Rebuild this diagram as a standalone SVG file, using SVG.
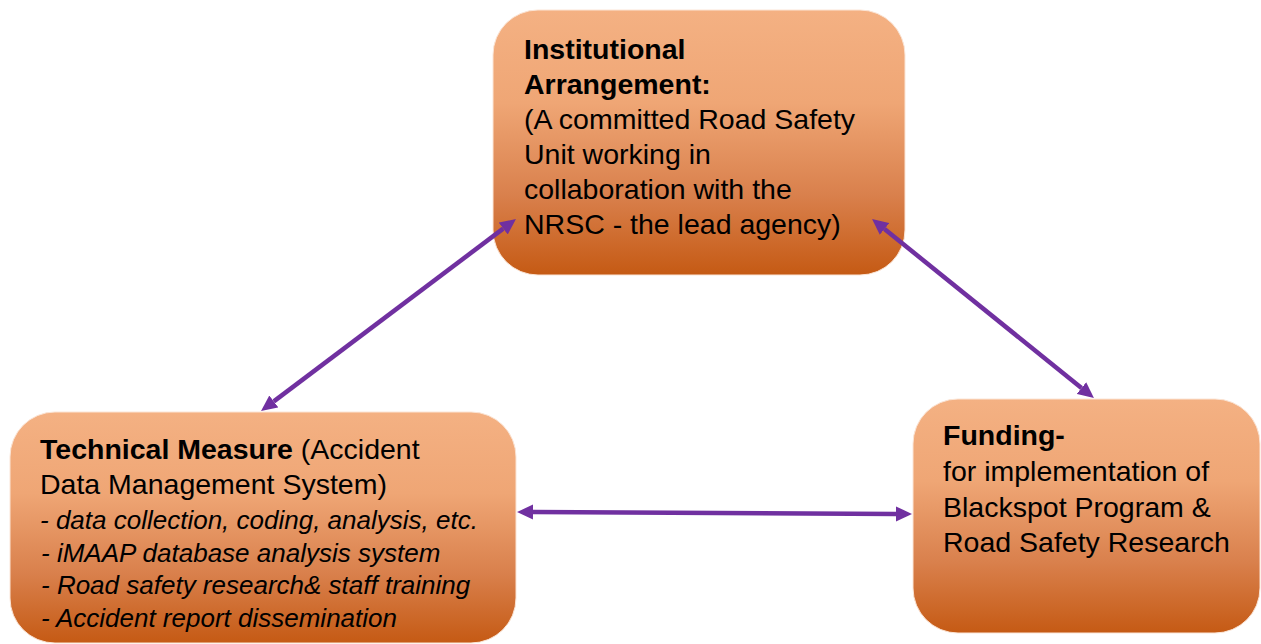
<svg xmlns="http://www.w3.org/2000/svg" width="1261" height="644" viewBox="0 0 1261 644">
  <defs>
    <linearGradient id="orangeFill" x1="0" y1="0" x2="0" y2="1">
      <stop offset="0" stop-color="#F4B183"/>
      <stop offset="0.35" stop-color="#EFA675"/>
      <stop offset="0.7" stop-color="#D9804C"/>
      <stop offset="1" stop-color="#C55A14"/>
    </linearGradient>
    <marker id="head" markerUnits="userSpaceOnUse" markerWidth="16" markerHeight="16" refX="0" refY="8" orient="auto-start-reverse">
      <path d="M0,0.5 L16,8 L0,15.5 z" fill="#7030A0"/>
    </marker>
    <style>
      .box { fill: url(#orangeFill); stroke: #FBE5D6; stroke-width: 1; }
      .txt { font-family: "Liberation Sans", Arial, sans-serif; font-size: 28.5px; fill: #000; }
      .b { font-weight: bold; }
      .it { font-style: italic; font-size: 26px; }
      .link { stroke: #7030A0; stroke-width: 4.5; fill: none; marker-start: url(#head); marker-end: url(#head); }
    </style>
  </defs>

  <rect width="1261" height="644" fill="#FFFFFF"/>

  <!-- Institutional arrangement -->
  <g id="institutional">
    <rect class="box" x="493" y="10" width="412" height="265" rx="45" ry="45"/>
    <text class="txt b" x="524" y="59">Institutional</text>
    <text class="txt b" x="524" y="94">Arrangement:</text>
    <text class="txt" x="524" y="129">(A committed Road Safety</text>
    <text class="txt" x="524" y="164">Unit working in</text>
    <text class="txt" x="524" y="199">collaboration with the</text>
    <text class="txt" x="524" y="234">NRSC - the lead agency)</text>
  </g>

  <!-- Technical measure -->
  <g id="technical">
    <rect class="box" x="10" y="412" width="506" height="231" rx="45" ry="45"/>
    <text class="txt" x="40" y="459"><tspan class="b">Technical Measure</tspan> (Accident</text>
    <text class="txt" x="40" y="494">Data Management System)</text>
    <text class="txt it" x="40" y="529">- data collection, coding, analysis, etc.</text>
    <text class="txt it" x="41" y="562">- iMAAP database analysis system</text>
    <text class="txt it" x="41" y="594">- Road safety research&amp; staff training</text>
    <text class="txt it" x="41" y="627">- Accident report dissemination</text>
  </g>

  <!-- Funding -->
  <g id="funding">
    <rect class="box" x="913" y="399" width="347" height="234" rx="45" ry="45"/>
    <text class="txt b" x="943" y="445">Funding-</text>
    <text class="txt" x="943" y="481">for implementation of</text>
    <text class="txt" x="943" y="517">Blackspot Program &amp;</text>
    <text class="txt" x="943" y="552">Road Safety Research</text>
  </g>

  <!-- Two-way links between the three pillars -->
  <g id="connectors">
    <line class="link" x1="273.8" y1="401.4" x2="503.2" y2="228.6"/>
    <line class="link" x1="884.5" y1="229" x2="1081.5" y2="388"/>
    <line class="link" x1="533" y1="512.1" x2="896" y2="513.9"/>
  </g>
</svg>
